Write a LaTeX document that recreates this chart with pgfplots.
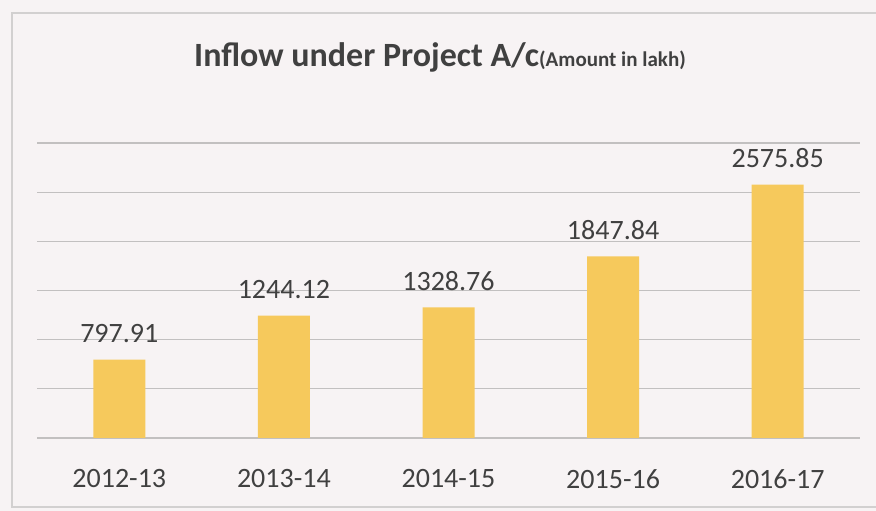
\documentclass[border=0pt]{standalone}
\usepackage{pgfplots}
\pgfplotsset{compat=1.18}
\usepackage{fontspec}
\setmainfont{Carlito}
\definecolor{bg}{HTML}{F7F3F4}
\definecolor{framec}{HTML}{D2D0D0}
\definecolor{gridc}{HTML}{C2C0C0}
\definecolor{barc}{HTML}{F6C95C}
\definecolor{txt}{HTML}{404040}
\pgfplotstableread{
x y lab
0 797.91 797.91
1 1244.12 1244.12
2 1328.76 1328.76
3 1847.84 1847.84
4 2575.85 2575.85
}\inflow
\begin{document}
\begin{tikzpicture}[x=1pt,y=1pt]
\useasboundingbox (0,0) rectangle (876,511);
\fill[bg] (0,0) rectangle (876,511);
\draw[framec, line width=1.2pt] (12,4) rectangle (895,498);
\begin{axis}[
  at={(37pt,73pt)}, anchor=south west,
  scale only axis, width=823pt, height=295pt,
  xmin=-0.5, xmax=4.5, ymin=0, ymax=3000,
  ytick={0,500,...,3000}, yticklabels={},
  ymajorgrids, grid style={gridc, line width=1.3pt},
  axis line style={draw=none}, tick style={draw=none},
  xtick={0,1,2,3,4},
  xticklabels={2012-13,2013-14,2014-15,2015-16,2016-17},
  xticklabel style={font=\fontsize{28}{31}\selectfont, text=txt, yshift=-24pt},
  ybar, bar width=52pt,
  nodes near coords, point meta=explicit symbolic,
  nodes near coords style={font=\fontsize{28}{31}\selectfont, text=txt, yshift=13pt},
  clip=false,
]
\addplot[fill=barc, draw=none] table[x=x, y=y, meta=lab] {\inflow};
\end{axis}
\node[anchor=base, text=txt, inner sep=0pt] at (440,444) {\fontsize{34}{38}\selectfont\bfseries Inflow under Project A/c{\fontsize{21}{24}\selectfont(Amount in lakh)}};
\end{tikzpicture}
\end{document}
